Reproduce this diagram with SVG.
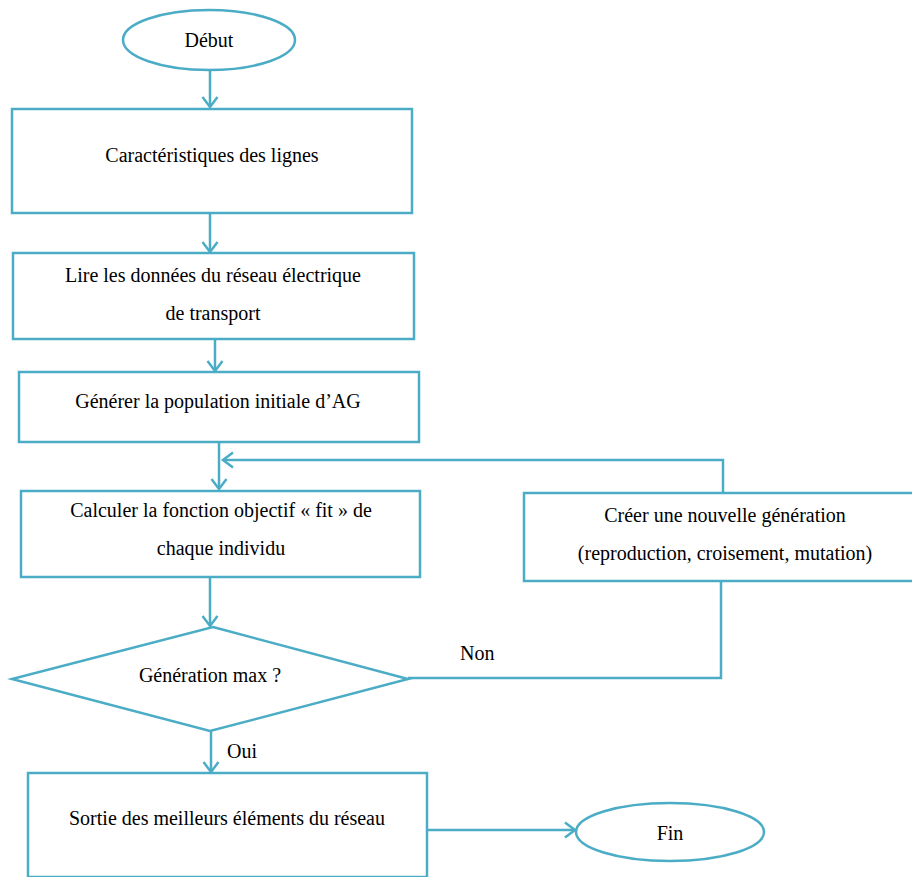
<svg xmlns="http://www.w3.org/2000/svg" width="912" height="877" viewBox="0 0 912 877">
<defs>
<style>
.s{fill:#fff;stroke:#4BACC6;stroke-width:2.5}
.c{fill:none;stroke:#4BACC6;stroke-width:2.5}
text{font-family:'Liberation Serif','Times New Roman',serif;font-size:20px;fill:#000}
.t{text-anchor:middle}
</style>
<marker id="a" markerUnits="userSpaceOnUse" markerWidth="20" markerHeight="20" viewBox="0 0 20 20" refX="14" refY="10" orient="auto">
<path d="M4,2.5 L14,10 L4,17.5" fill="none" stroke="#4BACC6" stroke-width="2.5"/>
</marker>
</defs>
<rect width="912" height="877" fill="#fff"/>
<g id="connectors">
<line class="c" x1="210" y1="70" x2="210" y2="107" marker-end="url(#a)"/>
<line class="c" x1="210" y1="213" x2="210" y2="252" marker-end="url(#a)"/>
<line class="c" x1="215" y1="339" x2="215" y2="371" marker-end="url(#a)"/>
<line class="c" x1="219" y1="442" x2="219" y2="489" marker-end="url(#a)"/>
<polyline class="c" points="723,493 723,460 223,460" marker-end="url(#a)"/>
<line class="c" x1="210" y1="577" x2="210" y2="626" marker-end="url(#a)"/>
<polyline class="c" points="721,581 721,678 408,678"/>
<line class="c" x1="211" y1="731" x2="211" y2="772" marker-end="url(#a)"/>
<line class="c" x1="427" y1="830" x2="575" y2="830" marker-end="url(#a)"/>
</g>
<g id="debut">
<ellipse class="s" cx="209" cy="40" rx="86" ry="30"/>
<text class="t" x="209" y="47">Début</text>
</g>
<g id="caracteristiques">
<rect class="s" x="12" y="109" width="400" height="104"/>
<text class="t" x="212" y="162">Caractéristiques des lignes</text>
</g>
<g id="lire">
<rect class="s" x="13" y="253" width="401" height="86"/>
<text class="t" x="213" y="282">Lire les données du réseau électrique</text>
<text class="t" x="213" y="320">de transport</text>
</g>
<g id="generer">
<rect class="s" x="19" y="372" width="400" height="70"/>
<text class="t" x="218" y="408">Générer la population initiale d’AG</text>
</g>
<g id="calculer">
<rect class="s" x="21" y="491" width="399" height="86"/>
<text class="t" x="221" y="517">Calculer la fonction objectif « fit » de</text>
<text class="t" x="221" y="555">chaque individu</text>
</g>
<g id="creer">
<rect class="s" x="524" y="493" width="392" height="88"/>
<text class="t" x="725" y="522">Créer une nouvelle génération</text>
<text class="t" x="725" y="560">(reproduction, croisement, mutation)</text>
</g>
<g id="decision">
<polygon class="s" points="213,627 408,679 210,731 12,679"/>
<text class="t" x="210" y="682">Génération max ?</text>
</g>
<g id="sortie">
<rect class="s" x="28" y="773" width="399" height="104"/>
<text class="t" x="227" y="825">Sortie des meilleurs éléments du réseau</text>
</g>
<g id="fin">
<ellipse class="s" cx="670" cy="832" rx="94" ry="29"/>
<text class="t" x="670" y="840">Fin</text>
</g>
<g id="labels">
<text x="460" y="660">Non</text>
<text x="227" y="758">Oui</text>
</g>
</svg>
